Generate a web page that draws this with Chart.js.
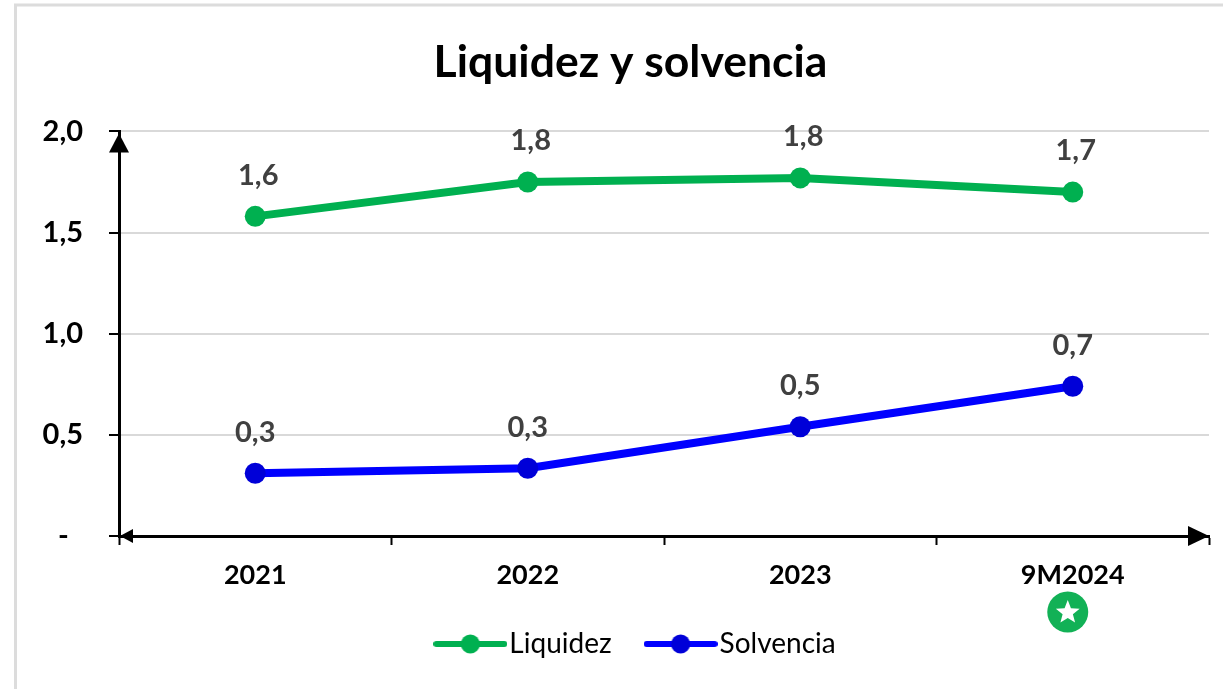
<!DOCTYPE html>
<html lang="es">
<head>
<meta charset="utf-8">
<style>
html,body{margin:0;padding:0;background:#fff;overflow:hidden}
#wrap{position:absolute;left:0;top:0;width:1223px;height:689px}
canvas{display:block}
</style>
<script src="https://cdn.jsdelivr.net/npm/chart.js@4"></script>
</head>
<body>
<div id="wrap"><canvas id="c" width="1223" height="689"></canvas></div>
<script>
const categories = ['2021', '2022', '2023', '9M2024'];
const liquidez = [1.58, 1.75, 1.77, 1.70];
const solvencia = [0.31, 0.335, 0.54, 0.74];
const labelLiquidez = ['1,6', '1,8', '1,8', '1,7'];
const labelSolvencia = ['0,3', '0,3', '0,5', '0,7'];
const GREEN = '#00b050', BLUE = '#0000ff', BLUE_DARK = '#0000d8';
const FONT = 'Lato, "Open Sans", sans-serif';

function legendGlyph(line, dot) {
  const cv = document.createElement('canvas');
  cv.width = 74; cv.height = 22;
  const x = cv.getContext('2d');
  x.strokeStyle = line; x.lineWidth = 6; x.lineCap = 'round';
  x.beginPath(); x.moveTo(3, 11); x.lineTo(71, 11); x.stroke();
  x.fillStyle = dot; x.beginPath(); x.arc(37, 11, 9.5, 0, Math.PI * 2); x.fill();
  return cv;
}

const decorations = {
  id: 'decorations',
  afterLayout(chart) {
    // the original title and legend are centred on the frame, not on the canvas
    const t = chart.titleBlock, l = chart.legend;
    t.left = 38; t.right = 1223;
    l.left = 58; l.right = 1223;
  },
  beforeDraw(chart) {
    const c = chart.ctx;
    c.save();
    c.fillStyle = '#ffffff';
    c.fillRect(0, 0, chart.width, chart.height);
    c.strokeStyle = '#dcdcdc'; c.lineWidth = 3;
    c.beginPath(); c.moveTo(15.5, 689); c.lineTo(15.5, 5); c.lineTo(1223, 5); c.stroke();
    c.restore();
  },
  afterDatasetsDraw(chart) {
    const c = chart.ctx, a = chart.chartArea;
    c.save();
    c.font = 'bold 29px ' + FONT;
    c.fillStyle = '#404040';
    c.textAlign = 'center';
    c.textBaseline = 'middle';
    [labelLiquidez, labelSolvencia].forEach((labels, i) => {
      chart.getDatasetMeta(i).data.forEach((p, j) => {
        c.fillText(labels[j], p.x + (i === 0 ? 3 : 0), p.y - 41);
      });
    });
    // axis arrow heads
    c.fillStyle = '#000';
    c.beginPath(); c.moveTo(a.left, a.top + 2); c.lineTo(a.left - 10, a.top + 21); c.lineTo(a.left + 10, a.top + 21); c.closePath(); c.fill();
    c.beginPath(); c.moveTo(a.left + 1, a.bottom); c.lineTo(a.left + 14, a.bottom - 7); c.lineTo(a.left + 14, a.bottom + 7); c.closePath(); c.fill();
    c.beginPath(); c.moveTo(a.right, a.bottom); c.lineTo(a.right - 21, a.bottom - 10); c.lineTo(a.right - 21, a.bottom + 10); c.closePath(); c.fill();
    // badge under the last category
    const bx = chart.scales.x.getPixelForValue(3) - 5, by = 612, R = 20.5;
    c.fillStyle = '#12b156';
    c.beginPath(); c.arc(bx, by, R, 0, Math.PI * 2); c.fill();
    c.fillStyle = '#fff';
    c.beginPath();
    for (let k = 0; k < 10; k++) {
      const r = k % 2 ? 5.4 : 12.5, t = -Math.PI / 2 + k * Math.PI / 5;
      const px = bx + r * Math.cos(t), py = by + 0.5 + r * Math.sin(t);
      k ? c.lineTo(px, py) : c.moveTo(px, py);
    }
    c.closePath(); c.fill();
    c.restore();
  }
};

new Chart(document.getElementById('c'), {
  type: 'line',
  data: {
    labels: categories,
    datasets: [
      { label: 'Liquidez', data: liquidez, borderColor: GREEN, backgroundColor: GREEN,
        borderWidth: 8, pointRadius: 10.5, pointHoverRadius: 10.5, pointBackgroundColor: GREEN,
        pointBorderWidth: 0, tension: 0, fill: false,
        pointStyle: 'circle', borderCapStyle: 'round' },
      { label: 'Solvencia', data: solvencia, borderColor: BLUE, backgroundColor: BLUE,
        borderWidth: 8, pointRadius: 10.5, pointHoverRadius: 10.5, pointBackgroundColor: BLUE_DARK,
        pointBorderWidth: 0, tension: 0, fill: false,
        pointStyle: 'circle', borderCapStyle: 'round' }
    ]
  },
  options: {
    responsive: false,
    animation: false,
    layout: { padding: { left: 16, right: 14, top: 36, bottom: 21 } },
    plugins: {
      tooltip: { enabled: false },
      title: { display: true, text: 'Liquidez y solvencia', color: '#000',
        font: { family: FONT, size: 44.5, weight: 'bold' }, padding: { top: 0, bottom: 42 } },
      legend: {
        position: 'bottom',
        labels: {
          color: '#000',
          font: { family: FONT, size: 28 },
          usePointStyle: true,
          boxWidth: 50, boxHeight: 22, pointStyleWidth: 50,
          padding: 44,
          generateLabels() {
            return [
              { text: 'Liquidez', pointStyle: legendGlyph(GREEN, GREEN), datasetIndex: 0, fontColor: '#000', lineWidth: 0 },
              { text: 'Solvencia', pointStyle: legendGlyph(BLUE, BLUE_DARK), datasetIndex: 1, fontColor: '#000', lineWidth: 0 }
            ];
          }
        }
      }
    },
    scales: {
      x: {
        offset: true,
        afterFit(s) { s.height = 50; },
        grid: { drawOnChartArea: false, drawTicks: true, tickLength: 9, tickColor: '#000', tickWidth: 2, color: '#000', offset: true },
        border: { display: true, color: '#000', width: 3 },
        ticks: { color: '#000', padding: 14, maxRotation: 0, font: { family: FONT, size: 27, weight: 'bold' } }
      },
      y: {
        min: 0, max: 2,
        afterFit(s) { s.width = 103; },
        grid: { color: '#d9d9d9', lineWidth: 2, drawTicks: true, tickLength: 10, tickColor: '#000', tickWidth: 2 },
        border: { display: true, color: '#000', width: 3 },
        ticks: {
          stepSize: 0.5, color: '#000', padding: 26,
          font: { family: FONT, size: 29, weight: 'bold' },
          callback(v) { return v === 0 ? '-  ' : v.toFixed(1).replace('.', ','); }
        }
      }
    }
  },
  plugins: [decorations]
});
</script>
</body>
</html>
